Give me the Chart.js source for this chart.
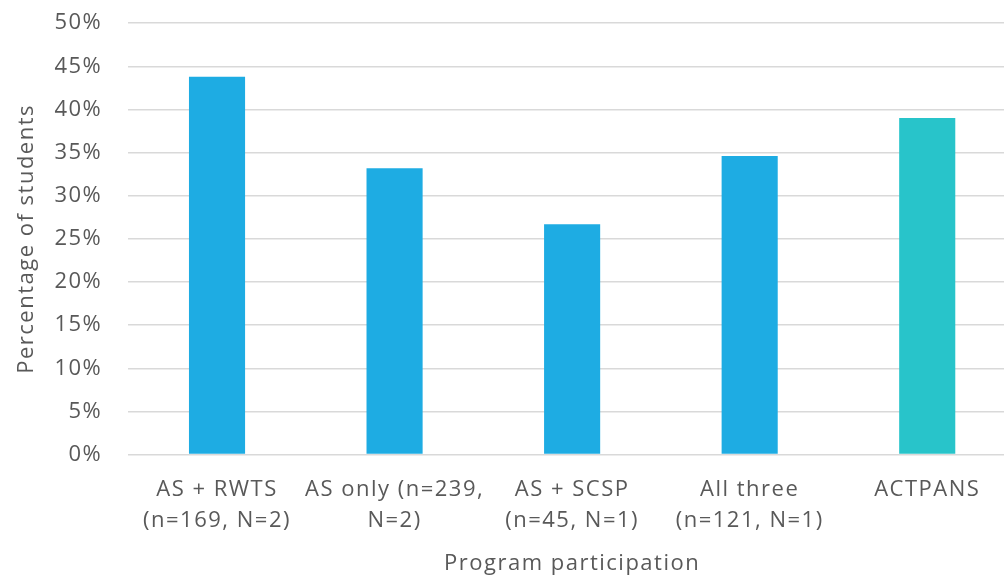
<!DOCTYPE html>
<html>
<head>
<meta charset="utf-8">
<script src="https://cdn.jsdelivr.net/npm/chart.js@4/dist/chart.umd.min.js"></script>
<style>
  html, body { margin: 0; padding: 0; background: #fff; overflow: hidden; }
  #wrap { width: 1016px; height: 593px; margin-top: -16px; position: relative; }
</style>
</head>
<body>
<div id="wrap"><canvas id="chart"></canvas></div>
<script>
// Share of students by program participation (percent)
const categories = [
  ["AS + RWTS", "(n=169, N=2)"],
  ["AS only (n=239,", "N=2)"],
  ["AS + SCSP", "(n=45, N=1)"],
  ["All three", "(n=121, N=1)"],
  ["ACTPANS"]
];
const percentValues = [43.8, 33.2, 26.7, 34.6, 39.0];
const barColors = ["#1EACE3", "#1EACE3", "#1EACE3", "#1EACE3", "#28C4CA"];
const yTickStep = 5;
const yMax = 50;
const xAxisTitle = "Program participation";
const yAxisTitle = "Percentage of students";

const textColor = "#595959";
const fontFamily = "'Open Sans', 'Noto Sans', sans-serif";

// Slightly looser tracking for all chart text
const letterSpacingPlugin = {
  id: "letterSpacing",
  beforeUpdate(chart) { chart.ctx.letterSpacing = "1.5px"; },
  beforeRender(chart) { chart.ctx.letterSpacing = "1.5px"; },
  beforeDraw(chart) { chart.ctx.letterSpacing = "1.5px"; }
};

new Chart(document.getElementById("chart"), {
  type: "bar",
  plugins: [letterSpacingPlugin],
  data: {
    labels: categories,
    datasets: [{
      data: percentValues,
      backgroundColor: barColors,
      borderWidth: 0,
      barPercentage: 0.316,
      categoryPercentage: 1.0
    }]
  },
  options: {
    responsive: true,
    maintainAspectRatio: false,
    animation: false,
    layout: { padding: { top: 0, left: 14, right: 0, bottom: 0 } },
    plugins: { legend: { display: false }, tooltip: { enabled: false } },
    scales: {
      x: {
        grid: { display: false, drawTicks: false },
        border: { display: false },
        ticks: {
          color: textColor,
          font: { family: fontFamily, size: 22, lineHeight: 1.41 },
          padding: 20,
          maxRotation: 0,
          autoSkip: false
        },
        title: {
          display: true,
          text: xAxisTitle,
          color: textColor,
          font: { family: fontFamily, size: 22 },
          padding: { top: -6, bottom: 0 }
        }
      },
      y: {
        min: 0,
        max: yMax,
        grid: { color: "#D9D9D9", lineWidth: 1.5, drawTicks: false },
        border: { display: false },
        ticks: {
          stepSize: yTickStep,
          color: textColor,
          font: { family: fontFamily, size: 22 },
          padding: 26,
          callback: v => v + "%"
        },
        title: {
          display: true,
          text: yAxisTitle,
          color: textColor,
          font: { family: fontFamily, size: 22 },
          padding: { top: 0, bottom: -12 }
        }
      }
    }
  }
});
</script>
</body>
</html>
